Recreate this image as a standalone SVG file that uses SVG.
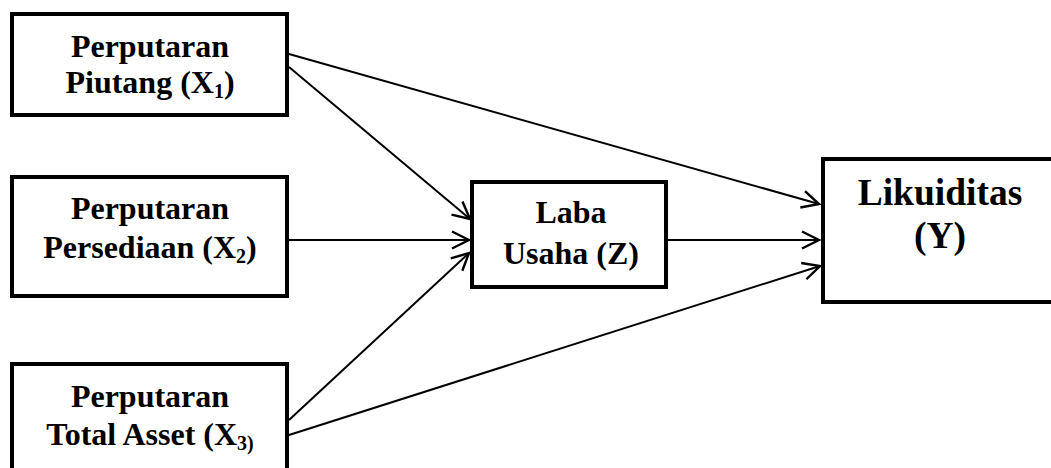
<svg xmlns="http://www.w3.org/2000/svg" width="1051" height="468" viewBox="0 0 1051 468">
<style>
.box{fill:#fff;stroke:#000;stroke-width:4}
.t{font-family:"Liberation Serif","Times New Roman",serif;font-weight:bold;font-size:32px;fill:#000;text-anchor:middle}
.tb{font-size:37.5px}
.sub{font-size:20px}
.c{stroke:#000;stroke-width:2;fill:none}
</style>
<defs>
<marker id="ah" markerUnits="userSpaceOnUse" markerWidth="22" markerHeight="22" refX="18" refY="9" orient="auto" viewBox="0 0 22 18">
<path d="M1,0.5 L18,9 L1,17.5" fill="none" stroke="#000" stroke-width="2.4"/>
</marker>
</defs>
<rect width="1051" height="468" fill="#fff"/>
<g id="connectors">
<line class="c" x1="289" y1="54" x2="819" y2="204" marker-end="url(#ah)"/>
<line class="c" x1="289" y1="67" x2="470" y2="219" marker-end="url(#ah)"/>
<line class="c" x1="289" y1="240" x2="469" y2="240" marker-end="url(#ah)"/>
<line class="c" x1="289" y1="420" x2="469" y2="253" marker-end="url(#ah)"/>
<line class="c" x1="289" y1="435" x2="820" y2="266" marker-end="url(#ah)"/>
<line class="c" x1="668" y1="240" x2="819" y2="240" marker-end="url(#ah)"/>
</g>
<g id="x1">
<rect class="box" x="12" y="14" width="275" height="101"/>
<text class="t" x="150" y="57">Perputaran</text>
<text class="t" x="150" y="93">Piutang (X<tspan class="sub" dy="5">1</tspan><tspan dy="-5">)</tspan></text>
</g>
<g id="x2">
<rect class="box" x="12" y="177" width="275" height="119"/>
<text class="t" x="150" y="219">Perputaran</text>
<text class="t" x="150" y="258">Persediaan (X<tspan class="sub" dy="5">2</tspan><tspan dy="-5">)</tspan></text>
</g>
<g id="x3">
<rect class="box" x="12" y="364" width="275" height="120"/>
<text class="t" x="150" y="407">Perputaran</text>
<text class="t" x="150" y="445">Total Asset (X<tspan class="sub" dy="5">3)</tspan></text>
</g>
<g id="z">
<rect class="box" x="472" y="182" width="194" height="105"/>
<text class="t" x="571" y="223">Laba</text>
<text class="t" x="571" y="264">Usaha (Z)</text>
</g>
<g id="y">
<rect class="box" x="823" y="159" width="240" height="143"/>
<text class="t tb" x="940" y="205">Likuiditas</text>
<text class="t tb" x="940" y="248">(Y)</text>
</g>
</svg>
